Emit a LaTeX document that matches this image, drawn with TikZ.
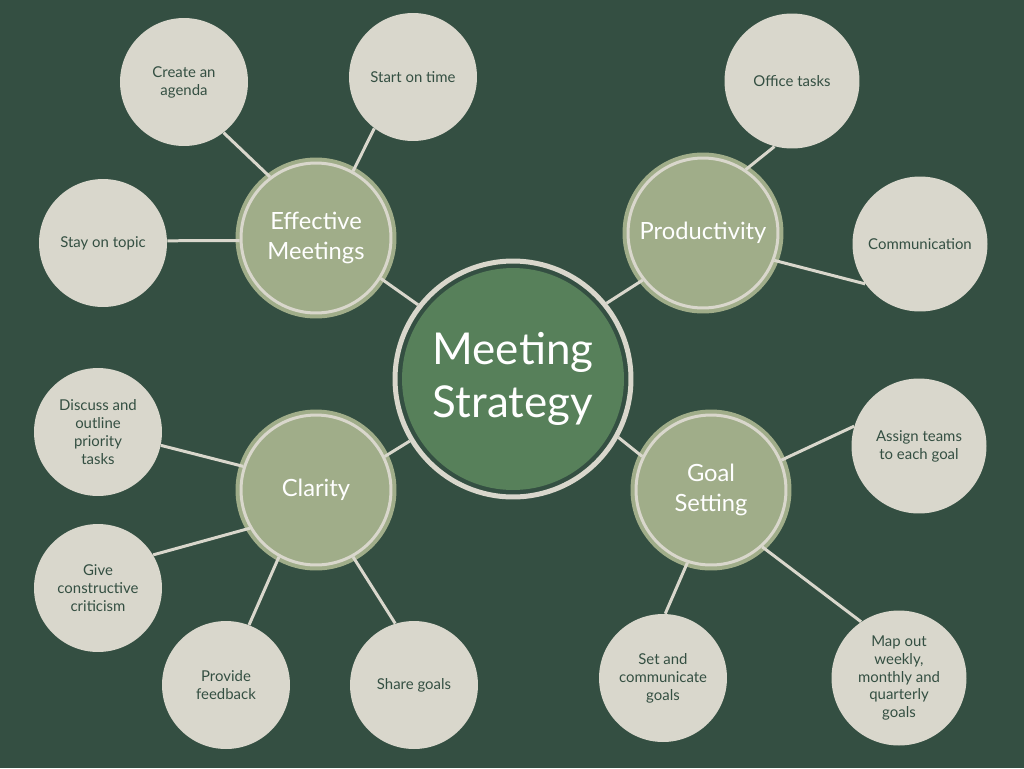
\documentclass[tikz,border=0pt]{standalone}
\usepackage{fontspec}
\setmainfont{Lato}

\definecolor{bg}{HTML}{344F42}
\definecolor{paper}{HTML}{D9D7CC}
\definecolor{sage}{HTML}{A0AD89}
\definecolor{moss}{HTML}{57805A}

\begin{document}
\begin{tikzpicture}[x=0.02cm,y=-0.02cm,
  leaf/.style={circle,fill=paper,text=bg,inner sep=0pt,minimum size=2.56cm,
    align=center,font=\fontsize{8.5}{10.2}\selectfont},
  bigleaf/.style={leaf,minimum size=2.7cm},
  hub/.style={circle,fill=sage,draw=paper,line width=0.06cm,inner sep=0pt,
    minimum size=3cm,align=center,text=white,font=\fontsize{13.5}{17}\selectfont,
    preaction={draw=sage,line width=0.22cm}},
  core/.style={circle,fill=bg,draw=paper,line width=0.1cm,inner sep=0pt,
    minimum size=4.72cm,align=center,text=white,font=\fontsize{25}{30.5}\selectfont,
    path picture={\fill[moss] (path picture bounding box.center) circle (2.22cm);}},
  link/.style={draw=paper,line width=0.06cm}]

\fill[bg] (0,0) rectangle (1024,768);

\node[core] (ctr) at (513,379) {Meeting\\Strategy};

\node[hub] (meet) at (316,238) {Effective\\Meetings};
\node[hub] (prod) at (703,233) {Productivity};
\node[hub] (clar) at (316,490) {Clarity};
\node[hub] (goal) at (711,490) {Goal\\Setting};

\node[leaf] (agenda) at (184,82) {Create an\\agenda};
\node[leaf] (ontime) at (413,77) {Start on time};
\node[leaf] (topic) at (103,243) {Stay on topic};

\node[bigleaf] (office) at (792,81) {Office tasks};
\node[bigleaf] (comm) at (920,244) {Communication};

\node[leaf] (discuss) at (98,432) {Discuss and\\outline\\priority\\tasks};
\node[leaf] (critic) at (98,588) {Give\\constructive\\criticism};
\node[leaf] (feedback) at (226,685) {Provide\\feedback};
\node[leaf] (share) at (414,685) {Share goals};

\node[bigleaf] (teams) at (919,446) {Assign teams\\to each goal};
\node[leaf] (setgoals) at (663,678) {Set and\\communicate\\goals};
\node[bigleaf] (mapout) at (899,678) {Map out\\weekly,\\monthly and\\quarterly\\goals};

\draw[link] (ctr.142) -- (meet.-32);
\draw[link] (ctr.39) -- (prod.218);
\draw[link] (ctr.211) -- (clar.26);
\draw[link] (ctr.-29) -- (goal.154);

\draw[link] (meet.127) -- (agenda.-52);
\draw[link] (meet.61) -- (ontime.233);
\draw[link] (meet.182) -- (topic.2);

\draw[link] (prod.56) -- (office.255);
\draw[link] (prod.-21) -- (comm.216);

\draw[link] (clar.162) -- (discuss.-12);
\draw[link] (clar.210) -- (critic.31);
\draw[link] (clar.241) -- (feedback.69);
\draw[link] (clar.-61) -- (share.107);

\draw[link] (goal.23) -- (teams.163);
\draw[link] (goal.-108) -- (setgoals.88);
\draw[link] (goal.-48) -- (mapout.124);
\end{tikzpicture}
\end{document}
